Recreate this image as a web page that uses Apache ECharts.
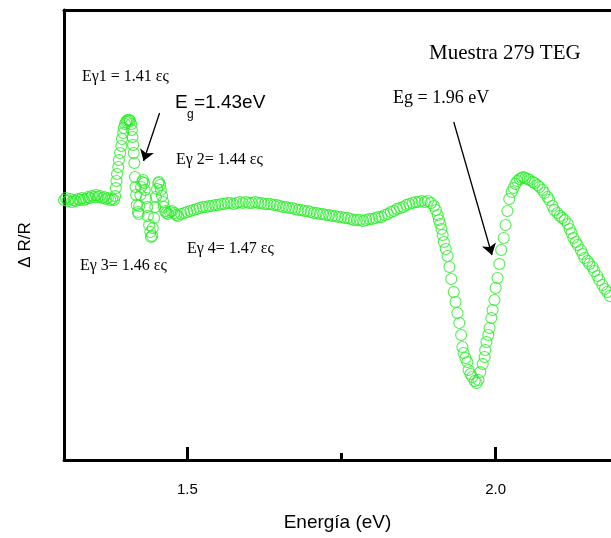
<!DOCTYPE html>
<html><head><meta charset="utf-8">
<script src="https://cdn.jsdelivr.net/npm/echarts@6/dist/echarts.min.js"></script>
<style>html,body{margin:0;padding:0;background:#fff}#c{width:611px;height:538px}</style>
</head><body><div id="c"></div>
<script>
// Photon energy (eV)
const energy = [
1.300,1.303,1.306,1.310,1.313,1.316,1.319,1.323,1.326,1.329,1.332,1.336,1.339,1.342,1.345,1.349,1.352,1.355,1.358,1.362,1.365,1.368,1.371,1.375,1.378,1.381,
1.383,1.384,1.385,1.386,1.388,1.389,1.391,1.393,1.394,1.396,1.397,1.399,1.401,1.402,1.404,1.406,1.407,1.409,1.410,1.411,1.412,1.413,1.414,1.415,1.416,1.417,1.418,1.420,1.421,1.422,1.424,1.425,1.427,1.428,1.430,1.431,1.433,1.435,1.436,1.438,1.440,1.441,1.443,1.444,1.446,1.448,1.449,1.451,1.453,1.454,1.456,1.457,1.459,1.461,1.462,1.464,1.466,1.469,1.472,1.475,1.479,1.482,1.485,
1.490,1.495,1.500,1.505,1.510,1.515,1.520,1.525,1.530,1.535,1.540,1.545,1.550,1.555,1.560,1.565,1.570,1.575,1.580,1.585,1.590,1.595,1.600,1.605,1.610,1.615,1.620,1.625,1.630,1.635,1.640,1.645,1.650,1.655,1.660,1.665,1.670,1.675,1.680,1.685,1.690,1.695,1.700,1.705,1.710,1.715,1.720,1.725,1.730,1.735,1.740,1.745,1.750,1.755,1.760,1.765,1.770,1.775,1.780,1.785,1.790,1.795,1.800,1.805,1.810,1.815,1.820,1.825,1.830,1.835,1.840,1.845,1.850,1.855,1.860,1.865,1.870,1.875,1.880,1.885,1.890,1.895,1.900,1.903,1.906,1.908,
1.910,1.912,1.914,1.916,1.919,1.922,1.925,1.928,1.932,1.935,1.938,1.941,1.944,1.946,1.948,1.951,1.954,1.956,1.959,1.962,1.966,1.969,1.972,1.975,1.979,1.982,1.983,1.985,1.988,1.990,1.993,1.995,1.998,2.000,2.003,2.006,2.009,2.013,2.016,2.019,2.022,2.026,2.029,2.032,2.035,2.039,2.042,2.045,2.048,2.052,2.055,2.060,2.063,2.068,2.071,2.076,2.079,2.084,2.087,2.092,2.095,2.100,2.104,2.108,2.112,2.117,2.120,2.123,2.126,2.130,2.133,2.138,2.141,2.144,2.149,2.152,2.157,2.160,2.165,2.168,2.173,2.177,2.181,2.185,2.188,2.193
];
// ΔR/R (arbitrary units)
const dR = [
0.00,0.04,-0.02,0.02,-0.04,0.00,-0.02,0.02,0.00,0.04,0.00,0.02,0.06,0.04,0.08,0.06,0.10,0.06,0.08,0.04,0.06,0.02,0.04,0.00,0.02,0.00,
0.08,0.24,0.38,0.52,0.66,0.80,0.94,1.08,1.22,1.34,1.44,1.52,1.56,1.59,1.60,1.60,1.58,1.52,1.40,1.26,1.10,0.94,0.74,0.46,0.26,0.10,-0.10,-0.24,-0.28,-0.12,0.10,0.26,0.36,0.40,0.34,0.20,0.04,-0.14,-0.32,-0.50,-0.64,-0.74,-0.72,-0.56,-0.36,-0.14,0.06,0.22,0.34,0.36,0.30,0.20,0.08,-0.04,-0.14,-0.22,-0.26,-0.28,-0.24,-0.22,-0.26,-0.30,-0.32,
-0.28,-0.26,-0.24,-0.22,-0.20,-0.18,-0.16,-0.14,-0.14,-0.12,-0.12,-0.10,-0.10,-0.08,-0.08,-0.06,-0.06,-0.08,-0.06,-0.04,-0.06,-0.04,-0.06,-0.06,-0.04,-0.06,-0.06,-0.08,-0.08,-0.08,-0.10,-0.10,-0.12,-0.14,-0.14,-0.16,-0.16,-0.18,-0.20,-0.20,-0.22,-0.22,-0.24,-0.26,-0.26,-0.28,-0.28,-0.30,-0.30,-0.32,-0.32,-0.34,-0.34,-0.36,-0.36,-0.38,-0.40,-0.40,-0.40,-0.42,-0.40,-0.38,-0.38,-0.36,-0.34,-0.34,-0.30,-0.28,-0.24,-0.22,-0.18,-0.16,-0.14,-0.10,-0.08,-0.06,-0.04,-0.04,-0.02,-0.04,-0.02,-0.06,-0.12,-0.20,-0.30,-0.40,
-0.48,-0.58,-0.70,-0.84,-0.98,-1.12,-1.34,-1.58,-1.84,-2.04,-2.26,-2.46,-2.70,-2.94,-3.06,-3.16,-3.24,-3.40,-3.48,-3.54,-3.62,-3.66,-3.60,-3.44,-3.28,-3.14,-3.00,-2.84,-2.70,-2.56,-2.36,-2.20,-2.00,-1.76,-1.56,-1.28,-1.00,-0.76,-0.50,-0.22,0.02,0.16,0.24,0.32,0.38,0.42,0.44,0.46,0.44,0.42,0.40,0.36,0.34,0.30,0.26,0.20,0.14,0.06,0.00,-0.12,-0.20,-0.26,-0.32,-0.36,-0.40,-0.48,-0.58,-0.66,-0.76,-0.84,-0.90,-1.00,-1.08,-1.16,-1.22,-1.28,-1.34,-1.42,-1.52,-1.60,-1.70,-1.78,-1.84,-1.92,-1.98,-2.04
];
const majorTicks = [1.5, 2.0];
const minorTicks = [1.75];
// annotation arrows: [from, to] in data units
const arrowFrom = [[1.455, 1.74], [1.932, 1.56]];
const arrowTo = [[1.429, 0.78], [1.994, -1.10]];

const chart = echarts.init(document.getElementById('c'), null, {renderer: 'canvas'});
const pts = energy.map((e, i) => [e, dR[i]]);
const serif = 'Liberation Serif';
const sans = 'Liberation Sans';
function txt(x, y, text, size, family, extra) {
  return Object.assign({type: 'text', x: x, y: y, silent: true,
    style: {text: text, fontSize: size, fontFamily: family, fill: '#000', align: 'left', verticalAlign: 'middle'}}, extra || {});
}
chart.setOption({
  animation: false,
  backgroundColor: '#fff',
  grid: {left: 64, top: 10, right: 0, bottom: 78, show: false, containLabel: false, outerBoundsMode: 'none'},
  xAxis: [
    {type: 'value', min: 1.3, max: 2.187, position: 'bottom',
     name: 'Energía (eV)', nameLocation: 'middle', nameGap: 53,
     nameTextStyle: {fontSize: 19, fontFamily: sans, color: '#000'},
     axisLine: {show: true, onZero: false, lineStyle: {color: '#000', width: 3}},
     axisTick: {show: true, inside: true, length: 13, customValues: majorTicks, lineStyle: {color: '#000', width: 3}},
     axisLabel: {show: true, customValues: majorTicks, margin: 22, fontSize: 15, fontFamily: sans, color: '#000',
       formatter: v => v.toFixed(1)},
     splitLine: {show: false}},
    {type: 'value', min: 1.3, max: 2.187, position: 'bottom', gridIndex: 0,
     axisLine: {show: false, onZero: false},
     axisTick: {show: true, inside: true, length: 7, customValues: minorTicks, lineStyle: {color: '#000', width: 3}},
     axisLabel: {show: false}, splitLine: {show: false}},
    {type: 'value', min: 1.3, max: 2.187, position: 'top', gridIndex: 0,
     axisLine: {show: true, onZero: false, lineStyle: {color: '#000', width: 3}},
     axisTick: {show: false}, axisLabel: {show: false}, splitLine: {show: false}}
  ],
  yAxis: {type: 'value', min: -5.2, max: 3.8,
    axisLine: {show: true, onZero: false, lineStyle: {color: '#000', width: 3}},
    axisTick: {show: false}, axisLabel: {show: false}, splitLine: {show: false}},
  series: [{
    type: 'scatter', xAxisIndex: 0, yAxisIndex: 0, data: pts,
    symbol: 'circle', symbolSize: 11,
    itemStyle: {color: 'rgba(0,0,0,0)', borderColor: '#22ee22', borderWidth: 1.1},
    emphasis: {disabled: true},
    markLine: {
      silent: true, symbol: ['none', 'arrow'], symbolSize: 11,
      label: {show: false},
      lineStyle: {color: '#000', width: 1.3, type: 'solid'},
      data: [
        [{coord: arrowFrom[0]}, {coord: arrowTo[0]}],
        [{coord: arrowFrom[1], lineStyle: {curveness: 0.06}}, {coord: arrowTo[1]}]
      ]
    }
  }],
  graphic: [
    txt(25, 245, 'Δ R/R', 16, sans, {rotation: Math.PI / 2, style: {text: 'Δ R/R', fontSize: 17, fontFamily: sans, fill: '#000', align: 'center', verticalAlign: 'middle'}}),
    txt(429, 53, 'Muestra 279 TEG', 21, serif),
    txt(82, 77, 'Eγ1 = 1.41 ες', 16, serif),
    txt(175, 103, 'E', 19, sans),
    txt(187, 115, 'g', 12, sans),
    txt(194, 103, '=1.43eV', 19, sans),
    txt(393, 98, 'Eg = 1.96 eV', 18, serif),
    txt(176, 160, 'Eγ 2= 1.44 ες', 16, serif),
    txt(187, 249, 'Eγ 4= 1.47 ες', 16, serif),
    txt(80, 266, 'Eγ 3= 1.46 ες', 16, serif)
  ]
});
</script></body></html>
